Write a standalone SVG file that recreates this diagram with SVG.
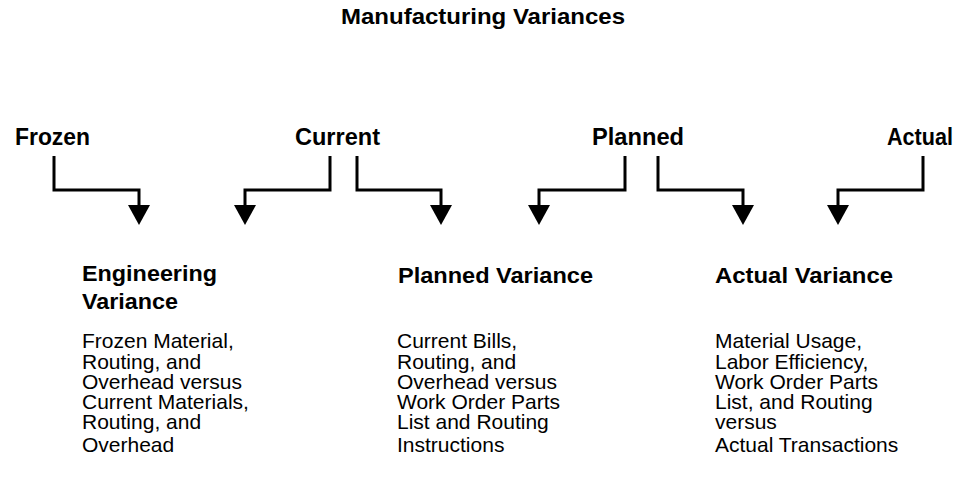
<svg xmlns="http://www.w3.org/2000/svg" width="963" height="483" viewBox="0 0 963 483">
<defs>
<style>
text { font-family: "Liberation Sans", Arial, sans-serif; fill: #000; }
.title { font-size: 22px; font-weight: bold; }
.src { font-size: 23px; font-weight: bold; }
.head { font-size: 22px; font-weight: bold; }
.body { font-size: 21px; }
.conn { fill: none; stroke: #000; stroke-width: 3; marker-end: url(#arrow); }
</style>
<marker id="arrow" markerUnits="userSpaceOnUse" markerWidth="20" markerHeight="22" viewBox="0 0 20 22" refX="7" refY="11" orient="auto">
<path d="M0,0 L20,11 L0,22 z" fill="#000"/>
</marker>
</defs>
<rect width="963" height="483" fill="#fff"/>
<text class="title" x="341" y="24" textLength="284" lengthAdjust="spacingAndGlyphs">Manufacturing Variances</text>

<g id="frozen"><text class="src" x="15" y="145" textLength="75" lengthAdjust="spacingAndGlyphs">Frozen</text></g>
<g id="current"><text class="src" x="295" y="145" textLength="85" lengthAdjust="spacingAndGlyphs">Current</text></g>
<g id="planned"><text class="src" x="592" y="145" textLength="92" lengthAdjust="spacingAndGlyphs">Planned</text></g>
<g id="actual"><text class="src" x="887" y="145" textLength="66" lengthAdjust="spacingAndGlyphs">Actual</text></g>

<g id="connectors">
<path class="conn" d="M54,156 V190 H139 V212"/>
<path class="conn" d="M330,156 V190 H245 V212"/>
<path class="conn" d="M357,156 V190 H441 V212"/>
<path class="conn" d="M625,156 V190 H539 V212"/>
<path class="conn" d="M658,156 V190 H743 V212"/>
<path class="conn" d="M923,156 V190 H838 V212"/>
</g>

<g id="engineering-variance">
<text class="head" x="82" y="281" textLength="135" lengthAdjust="spacingAndGlyphs">Engineering</text>
<text class="head" x="82" y="309" textLength="96" lengthAdjust="spacingAndGlyphs">Variance</text>
<text class="body" x="82" y="348">Frozen Material,</text>
<text class="body" x="82" y="369">Routing, and</text>
<text class="body" x="82" y="389">Overhead versus</text>
<text class="body" x="82" y="409">Current Materials,</text>
<text class="body" x="82" y="429">Routing, and</text>
<text class="body" x="82" y="452">Overhead</text>
</g>

<g id="planned-variance">
<text class="head" x="398" y="283" textLength="195" lengthAdjust="spacingAndGlyphs">Planned Variance</text>
<text class="body" x="397" y="348">Current Bills,</text>
<text class="body" x="397" y="369">Routing, and</text>
<text class="body" x="397" y="389">Overhead versus</text>
<text class="body" x="397" y="409">Work Order Parts</text>
<text class="body" x="397" y="429">List and Routing</text>
<text class="body" x="397" y="452">Instructions</text>
</g>

<g id="actual-variance">
<text class="head" x="715" y="283" textLength="178" lengthAdjust="spacingAndGlyphs">Actual Variance</text>
<text class="body" x="715" y="348">Material Usage,</text>
<text class="body" x="715" y="369">Labor Efficiency,</text>
<text class="body" x="715" y="389">Work Order Parts</text>
<text class="body" x="715" y="409">List, and Routing</text>
<text class="body" x="715" y="429">versus</text>
<text class="body" x="715" y="452">Actual Transactions</text>
</g>
</svg>
